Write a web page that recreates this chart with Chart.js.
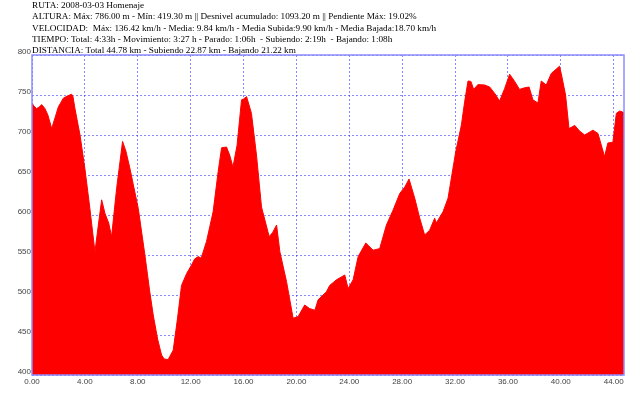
<!DOCTYPE html>
<html>
<head>
<meta charset="utf-8">
<script src="https://cdn.jsdelivr.net/npm/chart.js@4"></script>
<style>
  html, body { margin: 0; padding: 0; background: #fff; }
  #wrap { position: relative; width: 640px; height: 397px; }
  #info {
    position: absolute; left: 32px; top: 0px;
    font-family: "Liberation Serif", serif; font-size: 9.2px; line-height: 11.3px;
    color: #000; white-space: pre; z-index: 2;
  }
  canvas { position: absolute; left: 0; top: 0; }
</style>
</head>
<body>
<div id="wrap">
  <div id="info">RUTA: 2008-03-03 Homenaje
ALTURA: Máx: 786.00 m - Mín: 419.30 m || Desnivel acumulado: 1093.20 m || Pendiente Máx: 19.02%
VELOCIDAD:  Máx: 136.42 km/h - Media: 9.84 km/h - Media Subida:9.90 km/h - Media Bajada:18.70 km/h
TIEMPO: Total: 4:33h - Movimiento: 3:27 h - Parado: 1:06h  - Subiendo: 2:19h  - Bajando: 1:08h
DISTANCIA: Total 44.78 km - Subiendo 22.87 km - Bajando 21.22 km</div>
  <canvas id="profile" width="640" height="397"></canvas>
</div>
<script>
// distance (km) and altitude (m)
const distancias = [
  0.00, 0.15, 0.35, 0.55, 0.73, 0.98, 1.20, 1.49, 1.75, 1.99, 2.37, 2.70, 3.00, 3.10, 3.25, 3.63,
  4.00, 4.38, 4.76, 5.00, 5.27, 5.52, 5.80, 6.02, 6.40, 6.85, 7.10, 7.41, 7.70, 8.04, 8.54, 8.90,
  9.17, 9.50, 9.80, 10.00, 10.30, 10.68, 11.00, 11.31, 11.70, 12.07, 12.30, 12.57, 12.80, 13.20,
  13.70, 14.08, 14.34, 14.71, 14.95, 15.20, 15.51, 15.85, 16.00, 16.23, 16.60, 16.98, 17.36, 17.94,
  18.20, 18.50, 18.75, 19.25, 19.75, 20.13, 20.63, 21.00, 21.40, 21.64, 22.27, 22.52, 23.03, 23.66,
  23.91, 24.29, 24.67, 25.25, 25.80, 26.30, 26.81, 27.31, 27.82, 28.20, 28.52, 28.95, 29.33, 29.70,
  30.08, 30.46, 30.58, 31.09, 31.47, 31.72, 32.05, 32.48, 32.73, 32.98, 33.20, 33.41, 33.73, 34.24,
  34.62, 35.00, 35.37, 35.75, 36.13, 36.51, 36.88, 37.26, 37.60, 37.89, 38.27, 38.52, 38.90, 39.28,
  39.70, 39.90, 40.03, 40.36, 40.62, 41.05, 41.42, 41.80, 42.43, 42.81, 43.06, 43.31, 43.56, 43.94,
  44.20, 44.45, 44.78
];
const alturas = [
  740, 736, 733, 735, 738, 733, 725, 708, 722, 735, 746, 749, 751, 748, 733, 700,
  658, 608, 554, 585, 619, 602, 590, 573, 633, 692, 680, 658, 635, 608, 550, 505,
  475, 445, 425, 420, 419.3, 431, 470, 512, 527, 537.5, 545, 548, 546, 567,
  604, 654, 684, 685, 675, 660, 687, 744, 745, 748, 727, 675, 610, 573,
  578, 587.5, 554, 517, 471, 473, 487.5, 483, 481, 494, 504, 512, 519, 525,
  508, 519, 548, 565, 556, 558, 587.5, 606, 627, 635, 645, 621, 596, 575,
  581, 596, 590, 604, 621, 646, 679, 712.5, 742, 767.5, 767, 757, 763, 762.5,
  760, 752, 742.5, 758, 776, 767, 757, 759, 760, 744, 740, 767.5, 762.5, 777,
  783, 786, 777, 750, 708, 712, 705, 700, 706, 702, 687.5, 673, 690, 691,
  727, 730, 728
];
const ticksX = [0, 4, 8, 12, 16, 20, 24, 28, 32, 36, 40, 44];
const ticksY = [400, 450, 500, 550, 600, 650, 700, 750, 800];

const gridBlue = 'rgba(40, 40, 255, 0.55)';

// light blue frame round the plot area
const frame = {
  id: 'frame',
  afterDraw(chart) {
    const a = chart.chartArea;
    const ctx = chart.ctx;
    ctx.save();
    ctx.strokeStyle = '#8c8cff';
    ctx.lineWidth = 1.5;
    ctx.strokeRect(a.left, a.top, a.right - a.left, a.bottom - a.top);
    ctx.restore();
  }
};

new Chart(document.getElementById('profile'), {
  type: 'line',
  data: {
    datasets: [{
      data: distancias.map((d, i) => ({ x: d, y: alturas[i] })),
      backgroundColor: '#ff0000',
      borderColor: '#ff0000',
      borderWidth: 1,
      fill: 'start',
      pointRadius: 0,
      tension: 0
    }]
  },
  options: {
    responsive: false,
    animation: false,
    layout: { padding: { top: 55, right: 16, left: 0, bottom: 0 } },
    plugins: { legend: { display: false }, tooltip: { enabled: false } },
    scales: {
      x: {
        type: 'linear',
        min: 0,
        max: 44.78,
        z: 1,
        afterBuildTicks: s => { s.ticks = ticksX.map(v => ({ value: v })); },
        afterFit: s => { s.height = 22; },
        ticks: {
          callback: v => v.toFixed(2),
          font: { family: 'Liberation Sans', size: 8 },
          color: '#444',
          padding: 2,
          maxRotation: 0
        },
        grid: { color: gridBlue, lineWidth: 1, tickLength: 0 },
        border: { display: false, dash: [2, 2] }
      },
      y: {
        min: 400,
        max: 800,
        z: 1,
        afterBuildTicks: s => { s.ticks = ticksY.map(v => ({ value: v })); },
        afterFit: s => { s.width = 32; },
        ticks: {
          font: { family: 'Liberation Sans', size: 8 },
          color: '#444',
          padding: 1,
          labelOffset: -3
        },
        grid: { color: gridBlue, lineWidth: 1, tickLength: 0 },
        border: { display: false, dash: [2, 2] }
      }
    }
  },
  plugins: [frame]
});
</script>
</body>
</html>
